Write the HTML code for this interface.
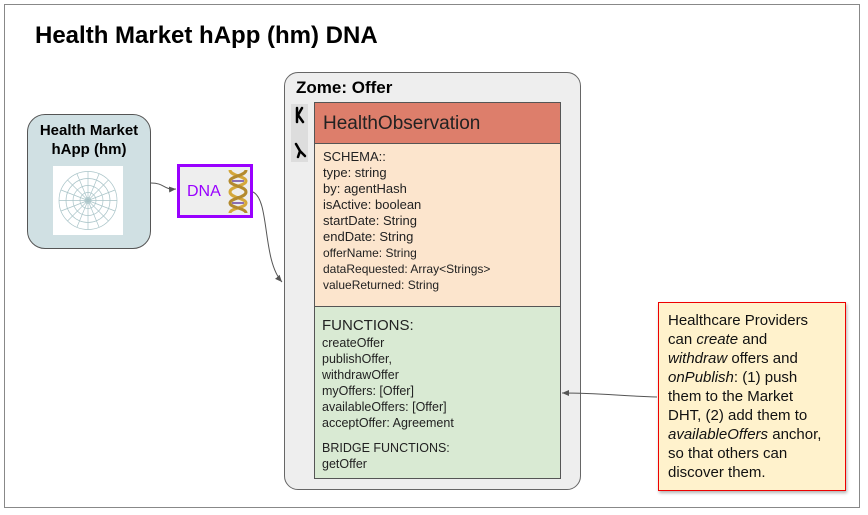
<!DOCTYPE html>
<html><head><style>
body{margin:0;width:868px;height:515px;background:#fff;font-family:"Liberation Sans",sans-serif;position:relative;overflow:hidden}
.a{position:absolute;box-sizing:border-box}
.t{white-space:nowrap}
</style></head><body>
<div class="a" style="left:4px;top:4px;width:856px;height:504px;border:1px solid #888"></div>
<div class="a t" style="left:35px;top:22px;font-size:24px;font-weight:bold;color:#000">Health Market hApp (hm) DNA</div>

<div class="a" style="left:27px;top:114px;width:124px;height:135px;background:#d0e0e3;border:1px solid #555;border-radius:18px"></div>
<div class="a" style="left:27px;top:121px;width:124px;text-align:center;font-size:15px;font-weight:bold;line-height:19px">Health Market<br>hApp (hm)</div>
<div class="a" style="left:53px;top:166px;width:70px;height:69px;background:#fff">
<svg width="70" height="69" viewBox="0 0 70 69"><g fill="none" stroke="#a9c4c8" stroke-width="0.7">
<circle cx="35" cy="34.5" r="29"/><circle cx="35" cy="34.5" r="22"/><circle cx="35" cy="34.5" r="15"/><circle cx="35" cy="34.5" r="8"/><circle cx="35" cy="34.5" r="3"/>
<path d="M35 5.5L35 63.5M6 34.5L64 34.5M14.5 14L55.5 55M14.5 55L55.5 14M24 8L46 61M46 8L24 61M8 24L62 45M8 45L62 24"/></g></svg></div>

<div class="a" style="left:177px;top:164px;width:76px;height:54px;background:#eee;border:3px solid #9900ff"></div>
<div class="a t" style="left:187px;top:183px;font-size:16px;color:#9900ff">DNA</div>
<svg class="a" style="left:226px;top:168px" width="24" height="47" viewBox="0 0 24 47">
<path d="M8 8H16M6 13H18M8 19H16M8 29H16M6 35H18M8 40H16" stroke="#8a6fb3" stroke-width="2"/>
<path d="M4 2C4 8 20 8 20 13C20 18 4 18 4 24C4 30 20 30 20 35C20 40 4 40 4 45" fill="none" stroke="#d4a73a" stroke-width="3"/>
<path d="M20 2C20 8 4 8 4 13C4 18 20 18 20 24C20 30 4 30 4 35C4 40 20 40 20 45" fill="none" stroke="#b38a2e" stroke-width="3"/></svg>

<div class="a" style="left:284px;top:72px;width:297px;height:418px;background:#eee;border:1px solid #666;border-radius:14px"></div>
<div class="a t" style="left:296px;top:78px;font-size:17px;font-weight:bold">Zome: Offer</div>
<div class="a" style="left:291px;top:104px;width:17px;height:58px;background:#ddd"></div>
<svg class="a" style="left:291px;top:104px" width="17" height="58"><g stroke="#000" stroke-width="2.5" fill="none" stroke-linecap="round"><path d="M6 4V18M11 4L7 11L12 18"/><path d="M5 40L9 47L14 52M9 47L7 53"/></g></svg>

<div class="a" style="left:314px;top:102px;width:247px;height:42px;background:#dd7e6b;border:1px solid #555"></div>
<div class="a t" style="left:323px;top:113px;font-size:19px;color:#222">HealthObservation</div>
<div class="a" style="left:314px;top:143px;width:247px;height:164px;background:#fce5cd;border:1px solid #555"></div>
<div class="a t" style="left:323px;top:149px;font-size:13px;line-height:16px;color:#222">SCHEMA::<br>type: string<br>by: agentHash<br>isActive: boolean<br>startDate: String<br>endDate: String<br><span style="font-size:12px">offerName: String<br>dataRequested: Array&lt;Strings&gt;<br>valueReturned: String</span></div>
<div class="a" style="left:314px;top:306px;width:247px;height:173px;background:#d9ead3;border:1px solid #555"></div>
<div class="a t" style="left:322px;top:317px;font-size:15px;color:#222">FUNCTIONS:</div>
<div class="a t" style="left:322px;top:335px;font-size:12.5px;line-height:16px;color:#222">createOffer<br>publishOffer,<br>withdrawOffer<br>myOffers: [Offer]<br>availableOffers: [Offer]<br>acceptOffer: Agreement<br><div style="height:9px"></div>BRIDGE FUNCTIONS:<br>getOffer</div>

<div class="a" style="left:658px;top:302px;width:188px;height:189px;background:#fff2cc;border:1px solid #e00;box-shadow:1px 2px 3px rgba(0,0,0,.3)"></div>
<div class="a t" style="left:668px;top:311px;font-size:15px;line-height:19px;color:#111">Healthcare Providers<br>can <i>create</i> and<br><i>withdraw</i> offers and<br><i>onPublish</i>: (1) push<br>them to the Market<br>DHT, (2) add them to<br><i>availableOffers</i> anchor,<br>so that others can<br>discover them.</div>

<svg class="a" style="left:0;top:0" width="868" height="515">
<defs><marker id="m" markerWidth="8" markerHeight="8" refX="7" refY="4" orient="auto" markerUnits="userSpaceOnUse"><path d="M0 1L7 4L0 7z" fill="#555"/></marker></defs>
<g fill="none" stroke="#555" stroke-width="1">
<path d="M151 183C165 183 163 190 176 189" marker-end="url(#m)"/>
<path d="M253 192C270 200 262 260 282 282" marker-end="url(#m)"/>
<path d="M657 397C620 396 600 393 562 393" marker-end="url(#m)"/>
</g></svg>
</body></html>
